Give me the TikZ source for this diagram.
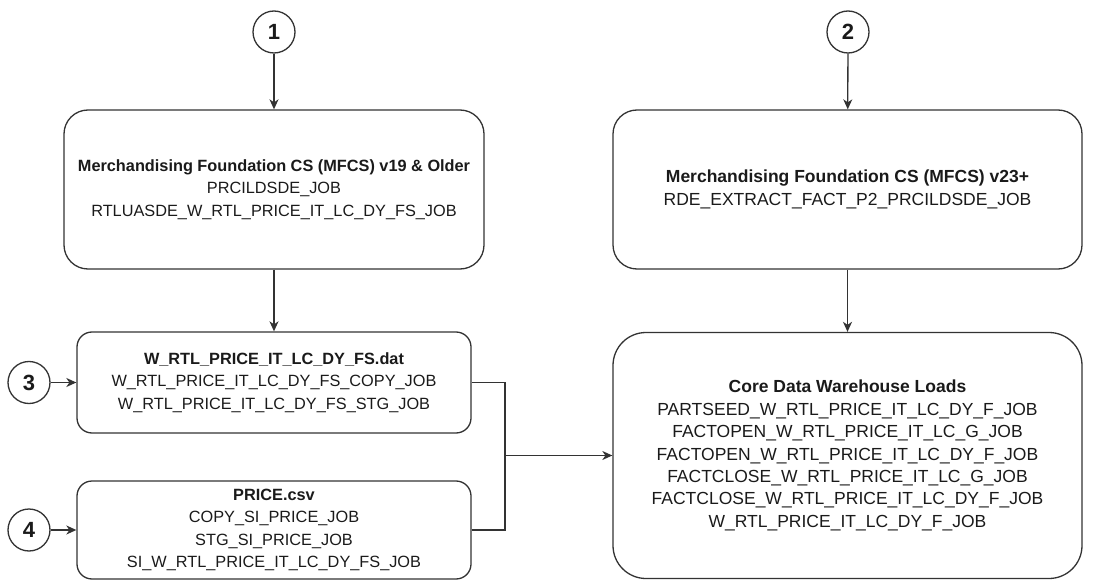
\documentclass[tikz,border=0pt]{standalone}
\usepackage{fontspec}
\setmainfont{Liberation Sans}
\usetikzlibrary{arrows.meta}
\definecolor{ln}{HTML}{333333}
\definecolor{tx}{HTML}{1A1A1A}
\begin{document}
\begin{tikzpicture}[x=1pt,y=-1pt,
  line width=1.3pt,
  every node/.style={text=tx},
  box/.style={draw=ln, rounded corners=#1, inner sep=0pt, align=center},
  lft/.style={font=\fontsize{16.3}{22.4}\selectfont},
  rgt/.style={font=\fontsize{17.5}{22.4}\selectfont},
  num/.style={draw=ln, circle, minimum size=42pt, inner sep=0pt, font=\fontsize{22}{22}\selectfont\bfseries},
  arr/.style={draw=ln, -{Stealth[length=10pt,width=9pt,inset=3pt]}},
  con/.style={draw=ln}]
\useasboundingbox (0,0) rectangle (1114,580);

% numbered circles
\node[num] (c1) at (274,32) {1};
\node[num] (c2) at (848,32) {2};
\node[num] (c3) at (29,382.5) {3};
\node[num] (c4) at (29,530) {4};

% boxes
\node[box=24pt, lft, minimum width=420pt, minimum height=159pt] (b1) at (274,189.5)
 {\textbf{Merchandising Foundation CS (MFCS) v19 \& Older}\\
  PRCILDSDE\_JOB\\
  RTLUASDE\_W\_RTL\_PRICE\_IT\_LC\_DY\_FS\_JOB};

\node[box=24pt, rgt, minimum width=469pt, minimum height=159pt] (b2) at (847.5,189.5)
 {\textbf{Merchandising Foundation CS (MFCS) v23+}\\
  RDE\_EXTRACT\_FACT\_P2\_PRCILDSDE\_JOB};

\node[box=15pt, lft, minimum width=394pt, minimum height=101pt] (b3) at (274,382.5)
 {\textbf{W\_RTL\_PRICE\_IT\_LC\_DY\_FS.dat}\\
  W\_RTL\_PRICE\_IT\_LC\_DY\_FS\_COPY\_JOB\\
  W\_RTL\_PRICE\_IT\_LC\_DY\_FS\_STG\_JOB};

\node[box=15pt, lft, minimum width=394pt, minimum height=98pt] (b4) at (274,530)
 {\textbf{PRICE.csv}\\
  COPY\_SI\_PRICE\_JOB\\
  STG\_SI\_PRICE\_JOB\\
  SI\_W\_RTL\_PRICE\_IT\_LC\_DY\_FS\_JOB};

\node[box=33pt, rgt, minimum width=469pt, minimum height=246pt] (b5) at (847.5,455.5)
 {\textbf{Core Data Warehouse Loads}\\
  PARTSEED\_W\_RTL\_PRICE\_IT\_LC\_DY\_F\_JOB\\
  FACTOPEN\_W\_RTL\_PRICE\_IT\_LC\_G\_JOB\\
  FACTOPEN\_W\_RTL\_PRICE\_IT\_LC\_DY\_F\_JOB\\
  FACTCLOSE\_W\_RTL\_PRICE\_IT\_LC\_G\_JOB\\
  FACTCLOSE\_W\_RTL\_PRICE\_IT\_LC\_DY\_F\_JOB\\
  W\_RTL\_PRICE\_IT\_LC\_DY\_F\_JOB};

\coordinate (j) at (505,455.5);

% connectors
\draw[arr] (c1) -- (b1);
\draw[arr] (c2) -- (b2);
\draw[arr] (b1) -- (b3);
\draw[arr] (b2) -- (b5);
\draw[arr] (c3) -- (b3);
\draw[arr] (c4) -- (b4);
\draw[con] (b3.east) -| (j);
\draw[con] (b4.east) -| (j);
\draw[arr] (j) -- (b5);
\end{tikzpicture}
\end{document}
